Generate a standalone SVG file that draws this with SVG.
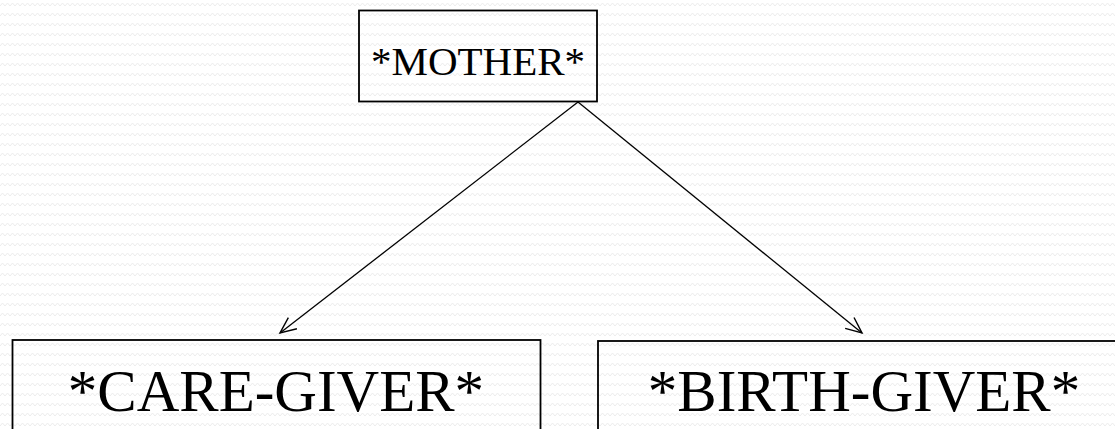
<svg xmlns="http://www.w3.org/2000/svg" width="1115" height="429" viewBox="0 0 1115 429">
<style>
.box{fill:none;stroke:#000;stroke-width:1.8}
.lbl{font-family:"Liberation Serif","Times New Roman",serif;fill:#000;text-anchor:middle}
.edge{fill:none;stroke:#000;stroke-width:1.3}
</style>
<defs>
<pattern id="zz" width="10" height="10" patternUnits="userSpaceOnUse">
<polyline points="0,6 2.5,3 5,6 7.5,3 10,6" fill="none" stroke="#ececec" stroke-width="1"/>
</pattern>
<marker id="arr" viewBox="0 0 20 20" refX="18" refY="10" markerWidth="20" markerHeight="20" markerUnits="userSpaceOnUse" orient="auto">
<polyline points="2,3 18,10 2,17" fill="none" stroke="#000" stroke-width="1.4"/>
</marker>
</defs>
<rect width="1115" height="429" fill="#fff"/>
<rect width="1115" height="429" fill="url(#zz)"/>
<g id="node-mother">
<rect class="box" x="359" y="10.5" width="238" height="91"/>
<text class="lbl" x="478" y="75" font-size="41">*MOTHER*</text>
</g>
<g id="node-caregiver">
<rect class="box" x="12.5" y="340" width="528" height="100"/>
<text class="lbl" x="276" y="411" font-size="59">*CARE-GIVER*</text>
</g>
<g id="node-birthgiver">
<rect class="box" x="598" y="341" width="540" height="100"/>
<text class="lbl" x="864" y="411" font-size="59">*BIRTH-GIVER*</text>
</g>
<g id="connectors">
<line class="edge" x1="578" y1="102" x2="280" y2="333" marker-end="url(#arr)"/>
<line class="edge" x1="578" y1="102" x2="862" y2="333" marker-end="url(#arr)"/>
</g>
</svg>
